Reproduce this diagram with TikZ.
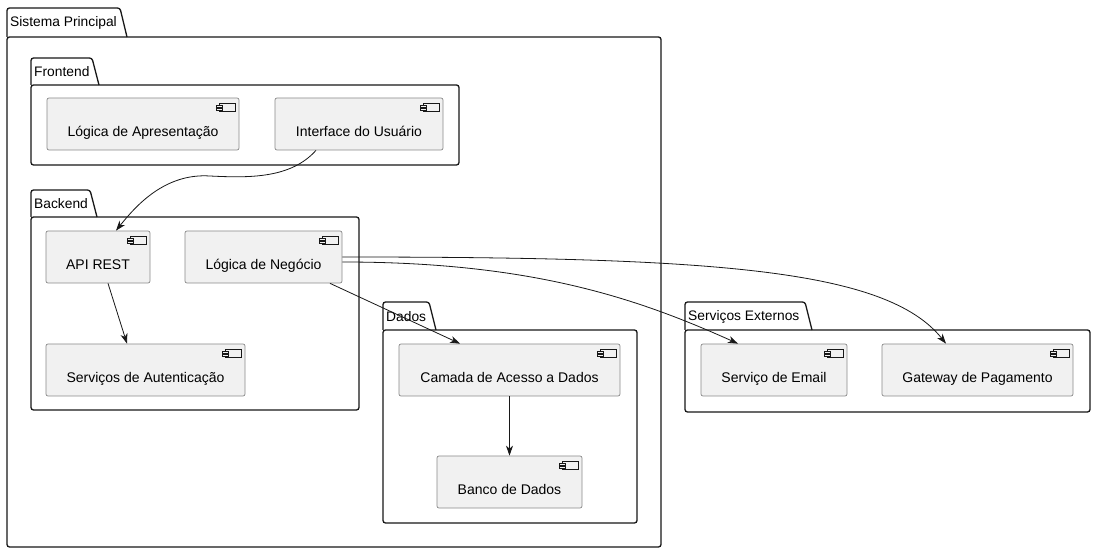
\documentclass[tikz,border=0pt]{standalone}
\usepackage{fontspec}
\setmainfont{Liberation Sans}
\usetikzlibrary{arrows.meta,calc}

\definecolor{compfill}{HTML}{F1F1F1}
\definecolor{compline}{HTML}{8A8A8A}
\definecolor{ink}{HTML}{181818}

\tikzset{
  pkgline/.style={draw=ink, line width=1.3pt, rounded corners=2.5pt},
  pkglabel/.style={font=\fontsize{13.8}{16}\selectfont, inner sep=0pt, anchor=west},
  comp/.style={draw=compline, fill=compfill, line width=0.7pt, rounded corners=2pt,
    inner sep=0pt, font=\fontsize{14}{16}\selectfont},
  iconline/.style={draw=ink, line width=0.5pt, fill=compfill},
  link/.style={draw=ink, line width=0.8pt, -{Stealth[length=10pt,width=7pt,inset=3pt]}}
}

% package: #1 name, #2 left, #3 tab top, #4 tab right, #5 body top, #6 right, #7 bottom, #8 label
\newcommand{\umlpkg}[8]{%
  \draw[pkgline] (#2,#5) -- (#2,#3) -- (#4-7,#3) -- (#4,#5);
  \draw[pkgline] (#2,#5) rectangle (#6,#7);
  \node[pkglabel] (#1) at (#2+3,{(#3+#5)/2+0.5}) {#8};
}

% component: #1 name, #2 left, #3 top, #4 right, #5 bottom, #6 label
\newcommand{\umlcomp}[6]{%
  \node[comp, minimum width={#4-#2}, minimum height={#5-#3}] (#1)
    at ({(#2+#4)/2},{(#3+#5)/2}) {\raisebox{-12.5pt}[0pt][0pt]{#6}};
  \draw[iconline] ($(#1.north east)+(-20,6)$) rectangle ($(#1.north east)+(-4,13.5)$);
  \draw[iconline] ($(#1.north east)+(-23,7.5)$) rectangle ($(#1.north east)+(-17,9.5)$);
  \draw[iconline] ($(#1.north east)+(-23,10.5)$) rectangle ($(#1.north east)+(-17,12.5)$);
}

\begin{document}
\begin{tikzpicture}[x=1pt,y=-1pt]
  \useasboundingbox[fill=white] (0,0) rectangle (1096,553);

  % packages
  \umlpkg{pkgmain}{7}{8}{127}{37}{661}{547}{Sistema Principal}
  \umlpkg{pkgfront}{31}{58}{99}{85}{459}{165}{Frontend}
  \umlpkg{pkgback}{31}{190}{97}{217}{359}{410}{Backend}
  \umlpkg{pkgdata}{383}{302}{436}{330}{637}{523}{Dados}
  \umlpkg{pkgext}{685}{302}{812}{330}{1090}{412}{Serviços Externos}

  % components
  \umlcomp{apres}{47}{98}{239}{150}{Lógica de Apresentação}
  \umlcomp{ui}{275}{98}{443}{150}{Interface do Usuário}
  \umlcomp{api}{46}{231}{150}{283}{API REST}
  \umlcomp{neg}{185}{231}{342}{283}{Lógica de Negócio}
  \umlcomp{auth}{46}{344}{245}{396}{Serviços de Autenticação}
  \umlcomp{dal}{399}{344}{620}{396}{Camada de Acesso a Dados}
  \umlcomp{db}{437}{456}{582}{508}{Banco de Dados}
  \umlcomp{email}{701}{344}{847}{396}{Serviço de Email}
  \umlcomp{pay}{882}{344}{1073}{396}{Gateway de Pagamento}

  % connectors
  \draw[link] ([xshift=-43pt]ui.south) .. controls +(-25,28) and +(40,2) ..
    (210,176) .. controls +(-45,-3) and +(20,-25) .. ([xshift=18pt]api.north);
  \draw[link] ([xshift=10pt]api.south) -- ([xshift=-18.5pt]auth.north);
  \draw[link] ([xshift=66.5pt]neg.south) -- ([xshift=-49.5pt]dal.north);
  \draw[link] ([yshift=-5pt]neg.east) .. controls +(190,0) and +(-100,-45) .. ([xshift=-36pt]email.north);
  \draw[link] ([yshift=0pt]neg.east) .. controls +(370,0) and +(-60,-75) .. ([xshift=-31.5pt]pay.north);
  \draw[link] (dal.south) -- (db.north);
\end{tikzpicture}
\end{document}
